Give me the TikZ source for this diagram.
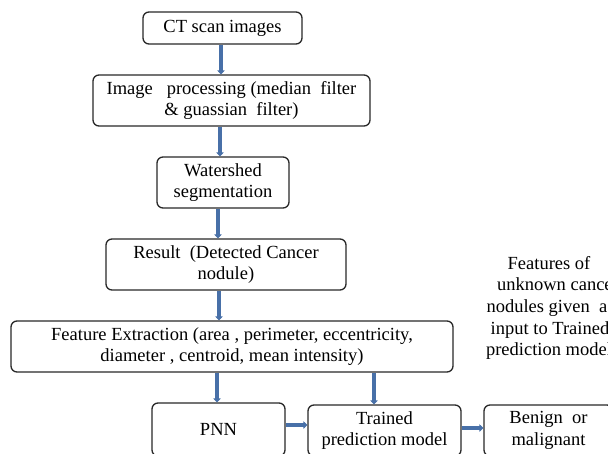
\documentclass[tikz,border=0pt]{standalone}
\usepackage{fontspec}
\setmainfont{Liberation Serif}
\usetikzlibrary{arrows.meta}
\definecolor{arrblue}{RGB}{72,112,168}
\definecolor{boxline}{RGB}{40,40,40}
\tikzset{
  box/.style={draw=boxline, line width=1.3pt, rounded corners=6pt, fill=white,
    align=center, inner sep=0pt, font=\fontsize{18.5}{21.7}\selectfont},
  plain/.style={align=center, inner sep=0pt, font=\fontsize{18.5}{21.7}\selectfont},
  arr/.style={draw=arrblue, line width=3.2pt, -{Triangle[width=7.5pt,length=4pt]}},
}
\begin{document}
\begin{tikzpicture}[x=1pt,y=-1pt]
\useasboundingbox (0,0) rectangle (608,453);
\clip (0,0) rectangle (608,453);
\fill[white] (0,0) rectangle (608,453);
\node[box, minimum width=159, minimum height=32] (ct) at (222.5,28) {CT scan images};
\node[box, minimum width=277, minimum height=51] (ip) at (231.5,100.5) {Image~~ processing (median~ filter\\ \& guassian~ filter)};
\node[box, minimum width=132, minimum height=51] (ws) at (223,182.5) {Watershed\\segmentation};
\node[box, minimum width=240, minimum height=51] (res) at (226,264.5) {Result~ (Detected Cancer\\nodule)};
\node[box, minimum width=442, minimum height=51] (fe) at (232,346.5) {Feature Extraction (area , perimeter, eccentricity,\\diameter , centroid, mean intensity)};
\node[box, minimum width=133, minimum height=53] (pnn) at (218.5,429.5) {PNN};
\node[box, minimum width=153, minimum height=51] (tr) at (384.5,430.5) {Trained\\prediction model};
\node[box, minimum width=129, minimum height=51] (bm) at (548.5,430.5) {Benign~ or\\malignant};
\node[plain] (feat) at (549,308) {Features of\\\hspace*{18pt}unknown cancer\\\hspace*{3pt}nodules given~ as\\\hspace*{2pt}input to Trained\\prediction model};
\draw[arr] (ct.south -| 221,0) -- (ip.north -| 221,0);
\draw[arr] (ip.south -| 220,0) -- (ws.north -| 220,0);
\draw[arr] (ws.south -| 218,0) -- (res.north -| 218,0);
\draw[arr] (res.south -| 219,0) -- (fe.north -| 219,0);
\draw[arr] (fe.south -| 217,0) -- (pnn.north -| 217,0);
\draw[arr] (fe.south -| 374,0) -- (tr.north -| 374,0);
\draw[arr] (pnn.east |- 0,425) -- (tr.west |- 0,425);
\draw[arr] (tr.east |- 0,428) -- (bm.west |- 0,428);
\end{tikzpicture}
\end{document}
